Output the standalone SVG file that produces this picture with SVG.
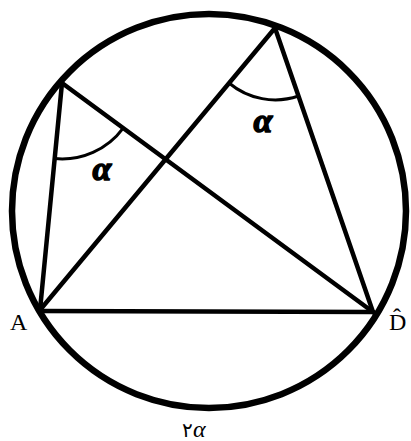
<svg xmlns="http://www.w3.org/2000/svg" width="411" height="441" viewBox="0 0 411 441">
<style>
.ln{stroke:#000;stroke-width:4.5;fill:none;stroke-linecap:round}
.arc{stroke:#000;stroke-width:3;fill:none}
.lbl{font-family:"Liberation Serif","DejaVu Serif",serif;fill:#000}
.al{font-family:"Liberation Serif","DejaVu Serif",serif;font-weight:bold;font-style:italic;fill:#000;font-size:34px;stroke:#000;stroke-width:1.5}
</style>
<rect width="411" height="441" fill="#fff"/>
<g id="circle"><circle cx="209" cy="211" r="197" fill="none" stroke="#000" stroke-width="6.5"/></g>
<g id="connectors">
<line class="ln" x1="40" y1="310" x2="62" y2="83"/>
<line class="ln" x1="40" y1="310" x2="275" y2="28"/>
<line class="ln" x1="62" y1="83" x2="373" y2="312"/>
<line class="ln" x1="275" y1="28" x2="373" y2="312"/>
<line class="ln" x1="40" y1="311" x2="373" y2="312" stroke-width="5"/>
</g>
<g id="angles">
<path class="arc" d="M54.7 158.6 A76 76 0 0 0 123.2 128.1"/>
<path class="arc" d="M229 83 A72 72 0 0 0 298.5 96"/>
<text class="al" x="102" y="180" text-anchor="middle">α</text>
<text class="al" x="263" y="132" text-anchor="middle">α</text>
</g>
<g id="labelA"><text class="lbl" x="10" y="330" font-size="24">A</text></g>
<g id="labelD"><text class="lbl" x="389" y="330" font-size="24">D̂</text></g>
<g id="labelArc"><text class="lbl" x="182" y="437" font-size="20">۲<tspan font-style="italic" font-size="24">α</tspan></text></g>
</svg>
